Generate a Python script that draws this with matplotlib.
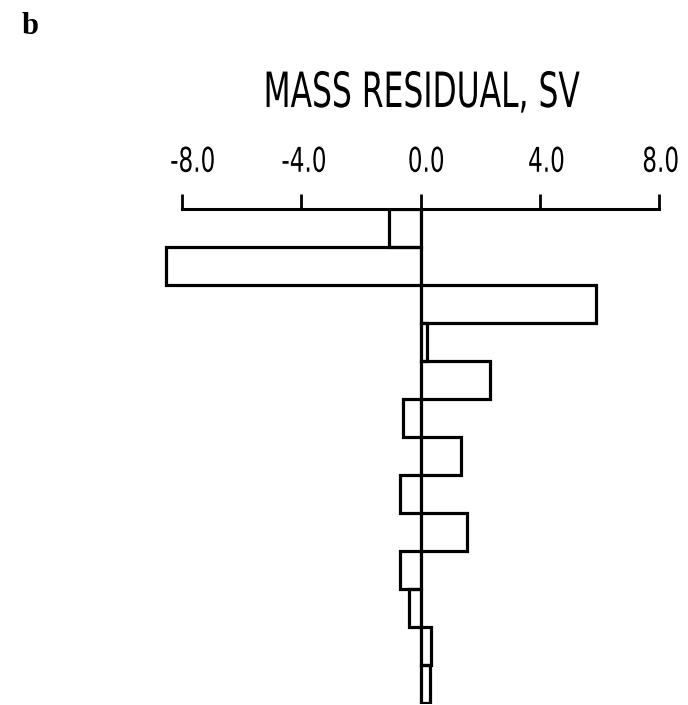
"""
    质量残差 水平条形图
"""

import numpy as np
import matplotlib
matplotlib.use('Agg')
import matplotlib.pyplot as plt
import matplotlib.transforms as mtransforms
import matplotlib.patheffects as pe

# 各层的质量残差 (Sv)，自上而下
residuals = [-1.04, -8.53, 5.89, 0.22, 2.34, -0.59, 1.36,
             -0.70, 1.56, -0.70, -0.37, 0.36, 0.33]
tick_values = [-8.0, -4.0, 0.0, 4.0, 8.0]
tick_labels = ['-8.0', '-4.0', '0.0', '4.0', '8.0']


class Squeeze(pe.AbstractPathEffect):
    # 绕文字中心横向压缩字形，模仿绘图仪的窄字体
    def __init__(self, sx):
        super().__init__()
        self.sx = sx

    def draw_path(self, renderer, gc, tpath, affine, rgbFace=None):
        v = tpath.vertices
        cx = 0.5 * (v[:, 0].min() + v[:, 0].max()) if len(v) else 0.0
        squeeze = (mtransforms.Affine2D().translate(-cx, 0)
                   .scale(self.sx, 1.0).translate(cx, 0))
        renderer.draw_path(gc, tpath, squeeze + affine, rgbFace)


W, H = 688, 705
fig = plt.figure(figsize=(W / 100, H / 100), dpi=100, facecolor='white')

# 坐标区位置：-8 在 x=182px，8 在 x=659px，顶轴在 y=209px
px_per_unit = (659 - 182) / 16.0
x0_px = 182 + 8 * px_per_unit
xmin, xmax = -9.0, 8.5
left = (x0_px + xmin * px_per_unit) / W
width = (xmax - xmin) * px_per_unit / W
top = 1 - 209 / H
bottom = 1 / H
ax = fig.add_axes([left, bottom, width, top - bottom])

n = len(residuals)
y = np.arange(n)
ax.barh(y, residuals, height=1.0, align='edge',
        facecolor='none', edgecolor='black', linewidth=2.3)
ax.axvline(0, color='black', linewidth=1.5)

ax.set_xlim(xmin, xmax)
ax.set_ylim(n + 0.02, 0)

# 只保留顶部坐标轴
for side in ['left', 'right', 'bottom']:
    ax.spines[side].set_visible(False)
ax.spines['top'].set_bounds(-8, 8)
ax.spines['top'].set_linewidth(2.2)
ax.set_yticks([])
ax.xaxis.set_ticks_position('top')
ax.set_xticks(tick_values)
ax.set_xticklabels(tick_labels, fontsize=24.5)
ax.tick_params(axis='x', direction='out', length=10.8, width=2.0, pad=11)

# 刻度标签略微偏右，并压窄
shifts = [11, 3, 6, 7, 2]
for lab, dx in zip(ax.get_xticklabels(), shifts):
    offset = mtransforms.ScaledTranslation(dx / 100, 0, fig.dpi_scale_trans)
    lab.set_transform(lab.get_transform() + offset)
    lab.set_path_effects([Squeeze(0.68)])

fig.text(422 / W, 1 - 107 / H, 'MASS RESIDUAL, SV', fontsize=35,
         ha='center', va='baseline', path_effects=[Squeeze(0.645)])
fig.text(22 / W, 1 - 34 / H, 'b', family=['Liberation Serif', 'DejaVu Serif'],
         fontweight='bold', fontsize=22, ha='left', va='baseline')

fig.savefig('out.png', dpi=100, facecolor='white')
